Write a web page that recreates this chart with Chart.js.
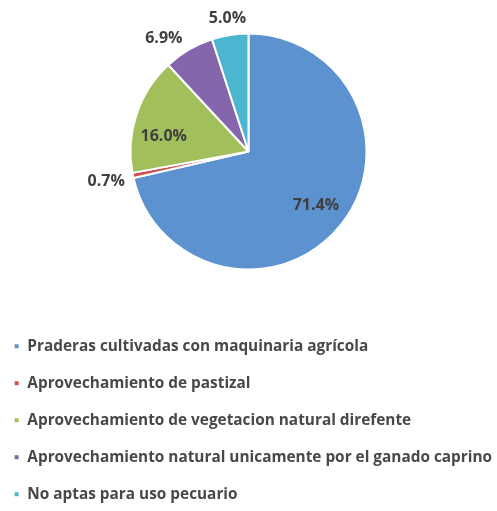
<!DOCTYPE html>
<html>
<head>
<meta charset="utf-8">
<script src="https://cdn.jsdelivr.net/npm/chart.js@4/dist/chart.umd.min.js"></script>
<style>
  html, body { margin: 0; padding: 0; background: #ffffff; }
  #wrap { width: 497px; height: 511px; }
</style>
</head>
<body>
<div id="wrap"><canvas id="c" width="497" height="511"></canvas></div>
<script>
// ---- data ----
const categories = [
  'Praderas cultivadas con maquinaria agrícola',
  'Aprovechamiento de pastizal',
  'Aprovechamiento de vegetacion natural direfente',
  'Aprovechamiento natural unicamente por el ganado caprino',
  'No aptas para uso pecuario'
];
const shares = [71.4, 0.7, 16.0, 6.9, 5.0];
const shareLabels = ['71.4%', '0.7%', '16.0%', '6.9%', '5.0%'];
const sliceColors = ['#5b92cf', '#cf504d', '#a1c05c', '#8466ac', '#4cb6d1'];

// ---- styling helpers ----
const FONT = "'Open Sans', 'DejaVu Sans', sans-serif";
const meas = document.createElement('canvas').getContext('2d');
meas.font = "bold 100px " + FONT;
const longest = categories.reduce((a, b) => a.length > b.length ? a : b);
const legendFontSize = 465 * 100 / meas.measureText(longest).width;
const rowStep = 37;

const pieLabels = {
  id: 'pieLabels',
  afterDatasetsDraw(chart, args, opts) {
    const ctx = chart.ctx;
    const arcs = chart.getDatasetMeta(0).data;
    ctx.save();
    ctx.font = "bold 16px " + FONT;
    ctx.fillStyle = '#3f3f3f';
    ctx.textAlign = 'center';
    ctx.textBaseline = 'middle';
    arcs.forEach((arc, i) => {
      const p = arc.getProps(['x', 'y', 'startAngle', 'endAngle', 'outerRadius'], true);
      const txt = shareLabels[i];
      const w = ctx.measureText(txt).width;
      const h = 11;
      let a = (p.startAngle + p.endAngle) / 2 + (opts.shift[i] || 0);
      const c = Math.cos(a), s = Math.sin(a);
      let d;
      if (shares[i] >= 10) {
        d = p.outerRadius * 0.73;
      } else {
        d = p.outerRadius + 8 + Math.abs(c) * w / 2 + Math.abs(s) * h / 2;
      }
      ctx.fillText(txt, p.x + c * d, p.y + s * d);
    });
    ctx.restore();
  }
};

new Chart(document.getElementById('c'), {
  type: 'pie',
  data: {
    labels: categories,
    datasets: [{
      data: shares,
      backgroundColor: sliceColors,
      borderColor: '#ffffff',
      borderWidth: 2,
      radius: 118
    }]
  },
  options: {
    responsive: false,
    devicePixelRatio: 1,
    animation: false,
    layout: { padding: { left: -8, right: -11, top: 32, bottom: 1 } },
    plugins: {
      tooltip: { enabled: false },
      pieLabels: { shift: [0, 0, -0.14, -0.11, 0] },
      legend: {
        position: 'bottom',
        align: 'start',
        title: { display: true, text: '', font: { size: 10 }, padding: { top: 34, bottom: 0 } },
        labels: {
          boxWidth: 6,
          boxHeight: 6,
          padding: rowStep - legendFontSize,
          color: '#484848',
          font: { family: FONT, size: legendFontSize, weight: 'bold' }
        }
      }
    }
  },
  plugins: [pieLabels]
});
</script>
</body>
</html>
